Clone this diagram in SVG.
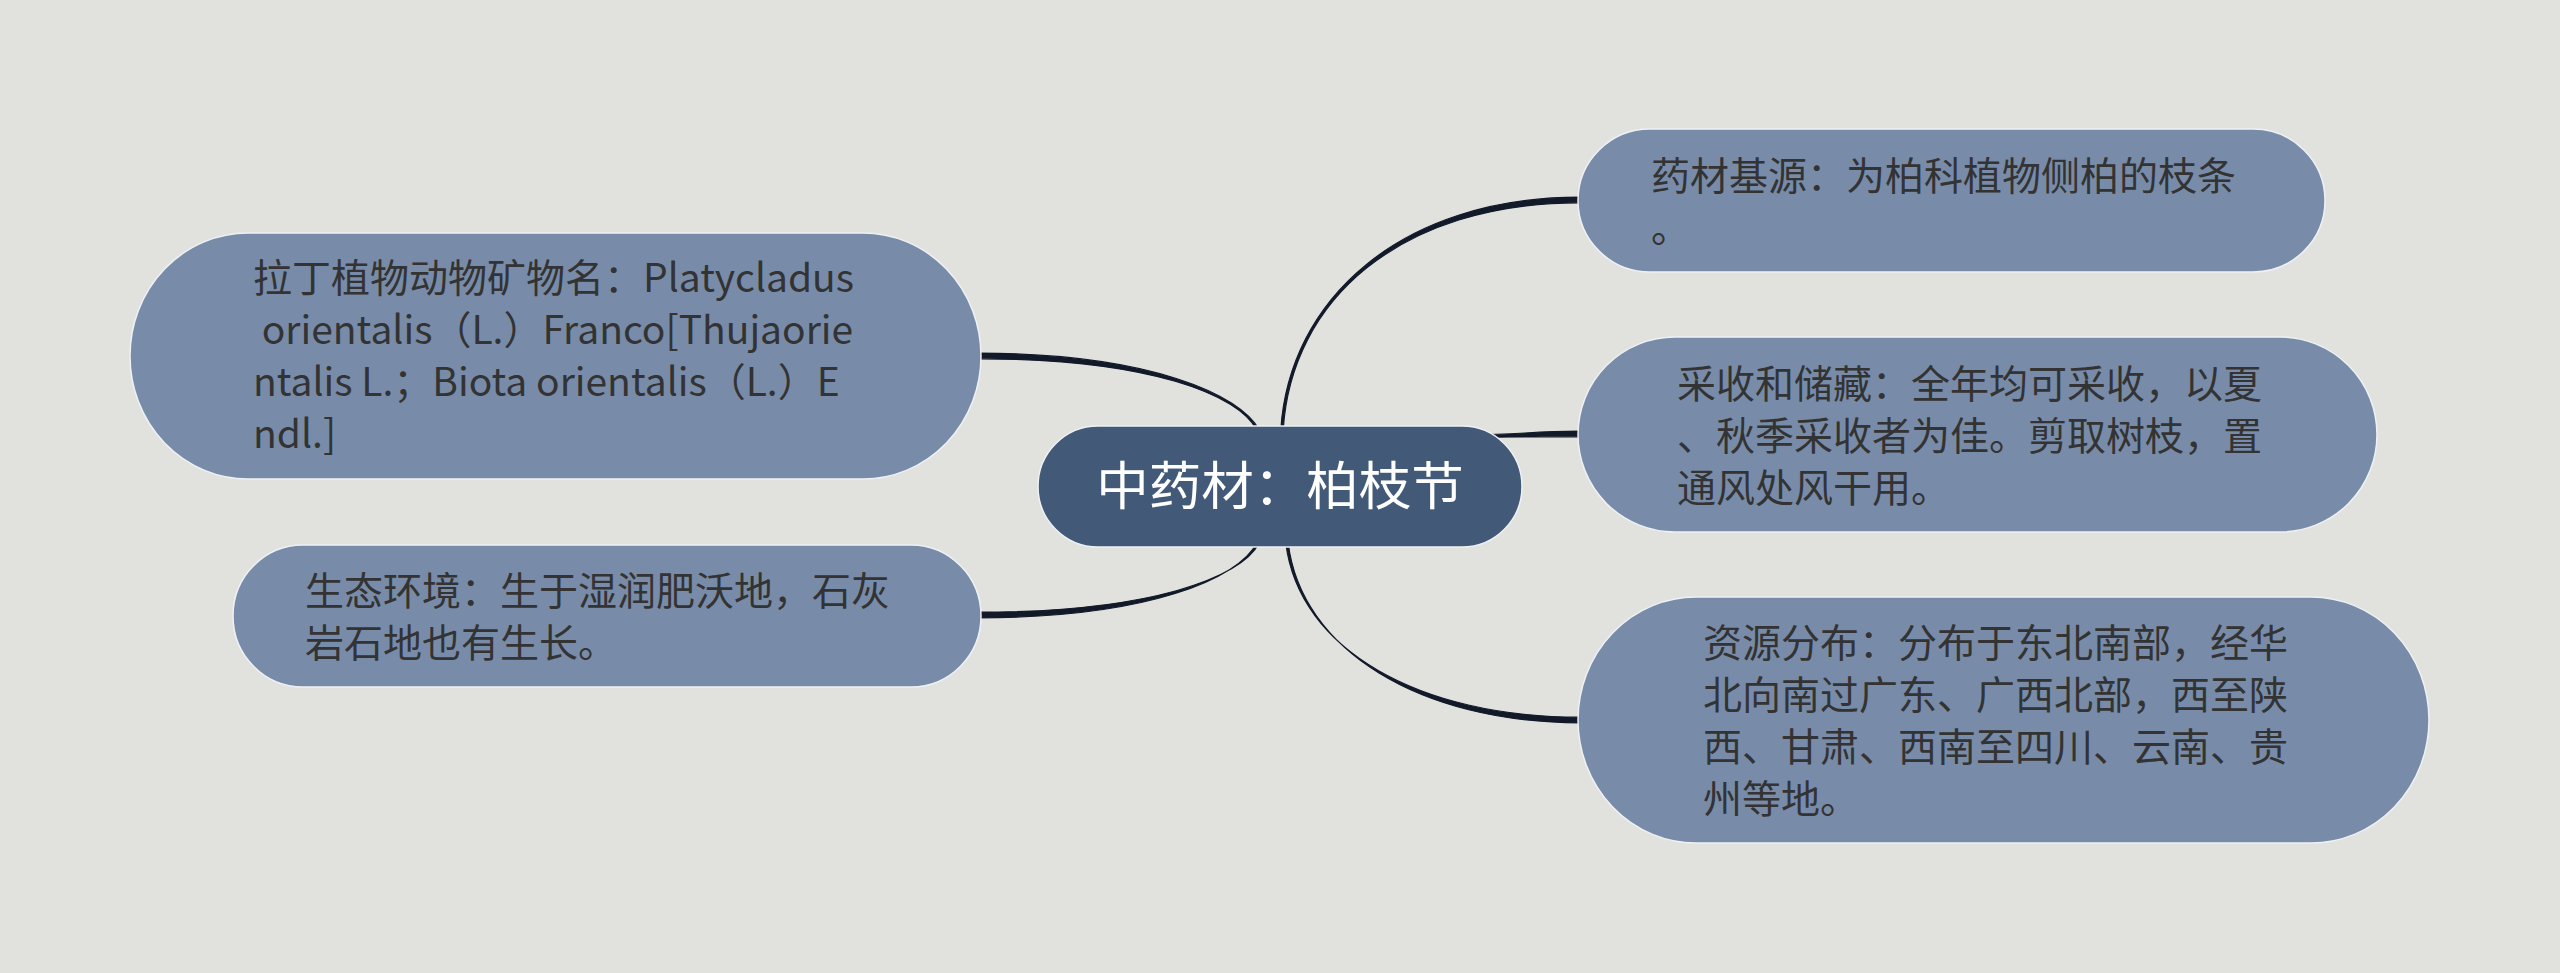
<svg xmlns="http://www.w3.org/2000/svg" width="2560" height="973" viewBox="0 0 2560 973">
<defs>
<style>
.bg{fill:#e1e2dd}
.leaf{fill:#788ca9;stroke:#eef1f5;stroke-width:1.5}
.root{fill:#425a78;stroke:#eef1f5;stroke-width:1.5}
.edge{fill:#121a2a;stroke:#121a2a;stroke-width:1.2;stroke-linejoin:round}
.t{font-family:"Noto Sans CJK SC","Noto Sans",sans-serif;font-size:39px;fill:#333333}
.rt{font-family:"Noto Sans CJK SC","Noto Sans",sans-serif;font-size:52.5px;fill:#ffffff}
</style>
</defs>
<rect class="bg" x="0" y="0" width="2560" height="973"/>
<g id="connectors">
<path class="edge" d="M1280.8,430 C1288.8,300 1400,197.2 1580,197.2 L1580,202.8 C1400,202.8 1291.2,300 1283.2,430 Z"/>
<path class="edge" d="M1470,434.8 C1520,434.8 1530,431.2 1580,431.2 L1580,436.8 C1530,436.8 1520,437.2 1470,437.2 Z"/>
<path class="edge" d="M1285.8,543 C1298.8,650 1420,717.2 1580,717.2 L1580,722.8 C1420,722.8 1301.2,650 1288.2,543 Z"/>
<path class="edge" d="M1259.2,430 C1241.2,395 1150,353.2 978,353.2 L978,358.8 C1150,358.8 1238.8,395 1256.8,430 Z"/>
<path class="edge" d="M1259.2,543 C1241.2,578 1150,612.2 978,612.2 L978,617.8 C1150,617.8 1238.8,578 1256.8,543 Z"/>
</g>
<g id="node-latin">
<rect class="leaf" x="130" y="233" width="851" height="246" rx="118" ry="123"/>
<text class="t" xml:space="preserve"><tspan x="253" y="292">拉丁植物动物矿物名：Platycladus</tspan><tspan x="253" y="344"> orientalis（L.）Franco[Thujaorie</tspan><tspan x="253" y="396">ntalis L.；Biota orientalis（L.）E</tspan><tspan x="253" y="448">ndl.]</tspan></text>
</g>
<g id="node-ecology">
<rect class="leaf" x="233" y="545" width="748" height="142" rx="70" ry="71"/>
<text class="t"><tspan x="305" y="605">生态环境：生于湿润肥沃地，石灰</tspan><tspan x="305" y="657">岩石地也有生长。</tspan></text>
</g>
<g id="root">
<rect class="root" x="1038" y="426" width="484" height="121" rx="60" ry="60.5"/>
<text class="rt" x="1280" y="505" text-anchor="middle">中药材：柏枝节</text>
</g>
<g id="node-source">
<rect class="leaf" x="1578" y="129" width="747" height="143" rx="72" ry="71.5"/>
<text class="t"><tspan x="1651" y="190">药材基源：为柏科植物侧柏的枝条</tspan><tspan x="1651" y="242">。</tspan></text>
</g>
<g id="node-harvest">
<rect class="leaf" x="1578" y="337" width="799" height="195" rx="97" ry="97.5"/>
<text class="t"><tspan x="1677" y="398">采收和储藏：全年均可采收，以夏</tspan><tspan x="1677" y="450">、秋季采收者为佳。剪取树枝，置</tspan><tspan x="1677" y="502">通风处风干用。</tspan></text>
</g>
<g id="node-distribution">
<rect class="leaf" x="1578" y="597" width="851" height="246" rx="118" ry="123"/>
<text class="t"><tspan x="1703" y="657">资源分布：分布于东北南部，经华</tspan><tspan x="1703" y="709">北向南过广东、广西北部，西至陕</tspan><tspan x="1703" y="761">西、甘肃、西南至四川、云南、贵</tspan><tspan x="1703" y="813">州等地。</tspan></text>
</g>
</svg>
